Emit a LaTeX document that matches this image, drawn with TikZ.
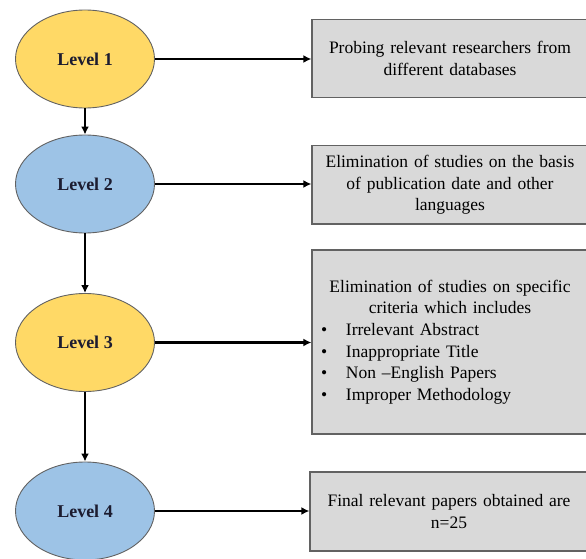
\documentclass[tikz,border=0pt]{standalone}
\usepackage{fontspec}
\setmainfont{Liberation Serif}
\usetikzlibrary{shapes.geometric,arrows.meta}
\definecolor{lvyellow}{HTML}{FFD966}
\definecolor{lvblue}{HTML}{9DC3E6}
\definecolor{boxgray}{HTML}{D9D9D9}
\definecolor{boxline}{HTML}{626262}
\definecolor{lvtext}{HTML}{1C1C30}
\tikzset{
  level/.style={ellipse, draw=boxline, line width=0.9pt, minimum width=139pt, minimum height=98pt, inner sep=0pt,
    font=\fontsize{18}{21}\selectfont\bfseries, text=lvtext},
  infobox/.style={rectangle, draw=boxline, line width=1.3pt, fill=boxgray, inner sep=0pt, minimum width=276pt,
    text width=276pt, align=center, font=\fontsize{17.5}{21.6}\selectfont},
  conn/.style={line width=2.4pt, -{Latex[length=8pt,width=8pt]}}
}
\newcommand{\bulletline}[1]{\makebox[276pt][l]{\hspace{9pt}\makebox[25pt][l]{\textbullet}#1}}
\begin{document}
\begin{tikzpicture}[x=1pt,y=-1pt]
\useasboundingbox (0,0) rectangle (586,559);
\node[level, fill=lvyellow] (l1) at (85,59) {Level 1};
\node[level, fill=lvblue] (l2) at (85,184) {Level 2};
\node[level, fill=lvyellow] (l3) at (85,342.5) {Level 3};
\node[level, fill=lvblue] (l4) at (85,511) {Level 4};

\node[infobox, minimum height=78pt] (b1) at (450,58.3) {Probing relevant researchers from\\ different databases};
\node[infobox, minimum height=78.3pt] (b2) at (450,184.9) {Elimination of studies on the basis\\ of publication date and other\\ languages};
\node[infobox, minimum height=184pt] (b3) at (450,342) {Elimination of studies on specific\\ criteria which includes\\
  \bulletline{Irrelevant Abstract}\\
  \bulletline{Inappropriate Title}\\
  \bulletline{Non --English Papers}\\
  \bulletline{Improper Methodology}};
\node[infobox, minimum width=278pt, text width=278pt, minimum height=79pt] (b4) at (449,511.5) {Final relevant papers obtained are\\ n=25};

\draw[conn] (l1) -- (l2);
\draw[conn] (l2) -- (l3);
\draw[conn] (l3) -- (l4);
\draw[conn] (l1.east) -- (b1.west |- l1.east);
\draw[conn] (l2.east) -- (b2.west |- l2.east);
\draw[conn] (l3.east) -- (b3.west |- l3.east);
\draw[conn] (l4.east) -- (b4.west |- l4.east);
\end{tikzpicture}
\end{document}
